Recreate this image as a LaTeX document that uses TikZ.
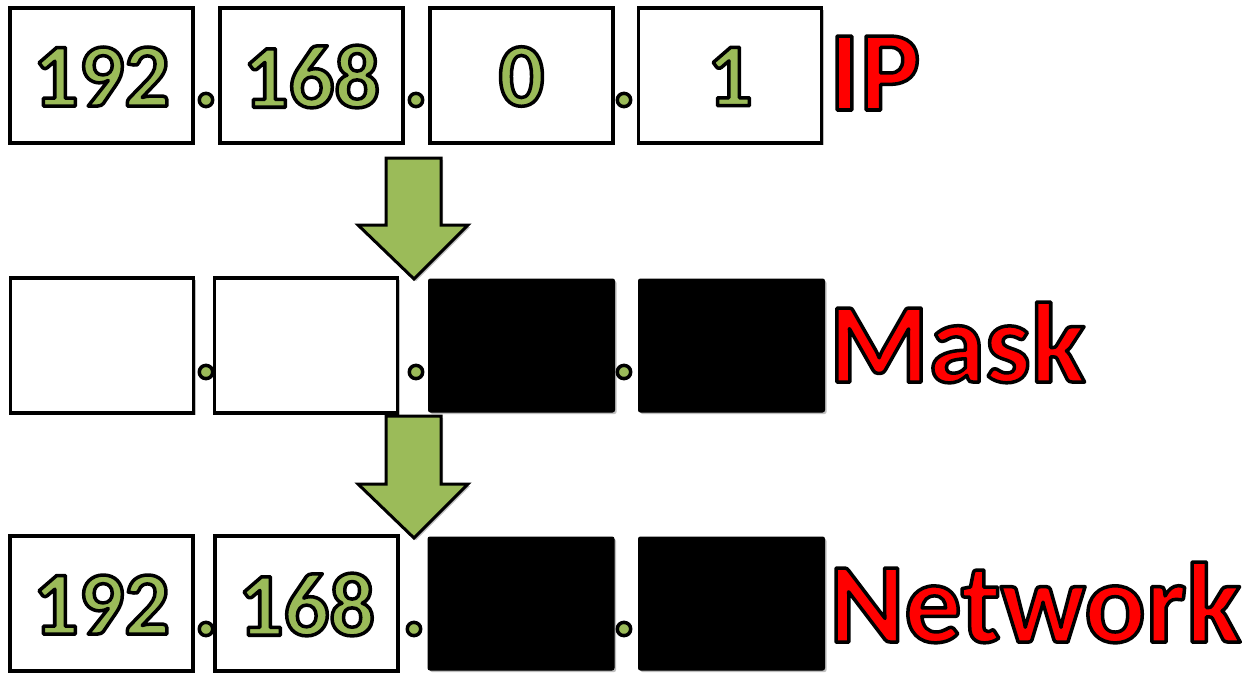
\documentclass[tikz,border=0pt]{standalone}
\usepackage{fontspec}
\setmainfont{Carlito}
\usetikzlibrary{shadows}
\definecolor{ipgreen}{HTML}{9BBB59}
\definecolor{ipred}{HTML}{FF0000}
\newcommand\olt[2]{\special{pdf:literal direct 0 0 0 RG #1 w 1 j 2 Tr}#2\special{pdf:literal direct 0 Tr}}
\tikzset{
  shd/.style={drop shadow={shadow xshift=2pt, shadow yshift=-2pt, opacity=0.25, fill=black}},
  wbox/.style={draw=black, line width=3.5pt, fill=white, minimum width=183pt, minimum height=135pt, inner sep=0pt, shd},
  bbox/.style={draw=black, line width=1pt, fill=black, rounded corners=2pt, minimum width=186pt, minimum height=133pt, inner sep=0pt, shd},
  num/.style={font=\fontsize{90}{90}\selectfont\bfseries, text=ipgreen, inner sep=0pt},
  dotn/.style={num, anchor=base},
  lab/.style={font=\fontsize{114}{114}\selectfont\bfseries, text=ipred, anchor=base west, inner sep=0pt},
  garrow/.style={draw=black, line width=3pt, fill=ipgreen, line join=miter, shd}
}
\begin{document}
\begin{tikzpicture}[x=1pt,y=-1pt]
\useasboundingbox (0,0) rectangle (1257,673);
% row 1
\node[wbox] (a1) at (101.5,75.5) {};
\node[wbox] (a2) at (311.5,75.5) {};
\node[wbox] (a3) at (521.5,75.5) {};
\node[wbox] (a4) at (730,75.5) {};
% row 2
\node[wbox] (m1) at (102,345.5) {};
\node[wbox] (m2) at (306,345.5) {};
\node[bbox] (m3) at (521.5,345.5) {};
\node[bbox] (m4) at (731.5,345.5) {};
% row 3
\node[wbox] (n1) at (101.5,603.5) {};
\node[wbox] (n2) at (306.5,603.5) {};
\node[bbox] (n3) at (521,603.5) {};
\node[bbox] (n4) at (731.5,603.5) {};
% arrows
\draw[garrow] (386,158) -- (441,158) -- (441,225) -- (468,225) -- (414,279) -- (358,225) -- (386,225) -- cycle;
\draw[garrow] (386,416) -- (441,416) -- (441,484) -- (468,484) -- (414,538) -- (358,484) -- (386,484) -- cycle;
% numbers
\node[num] (t1) at ([yshift=-1pt]a1.center) {\olt{3.5}{192}};
\node[num] (t2) at ([yshift=-1pt]a2.center) {\olt{3.5}{168}};
\node[num] (t3) at ([yshift=-1pt]a3.center) {\olt{3.5}{0}};
\node[num] (t4) at ([yshift=-1pt]a4.center) {\olt{3.5}{1}};
\node[num] (u1) at ([yshift=-1pt]n1.center) {\olt{3.5}{192}};
\node[num] (u2) at ([yshift=-1pt]n2.center) {\olt{3.5}{168}};
% dots
\node[dotn] (d11) at (206,106) {\olt{3.5}{.}};
\node[dotn] (d12) at (416,106) {\olt{3.5}{.}};
\node[dotn] (d13) at (624,106) {\olt{3.5}{.}};
\node[dotn] (d21) at (206,378) {\olt{3.5}{.}};
\node[dotn] (d22) at (416,378) {\olt{3.5}{.}};
\node[dotn] (d23) at (624,378) {\olt{3.5}{.}};
\node[dotn] (d31) at (206,635) {\olt{3.5}{.}};
\node[dotn] (d32) at (414,635) {\olt{3.5}{.}};
\node[dotn] (d33) at (624,635) {\olt{3.5}{.}};
% labels
\node[lab] (ip) at (829,110) {\olt{3.5}{IP}};
\node[lab] (mask) at (829,382) {\olt{3.5}{Mask}};
\node[lab] (net) at (829,642) {\olt{3.5}{Network}};
\end{tikzpicture}
\end{document}
